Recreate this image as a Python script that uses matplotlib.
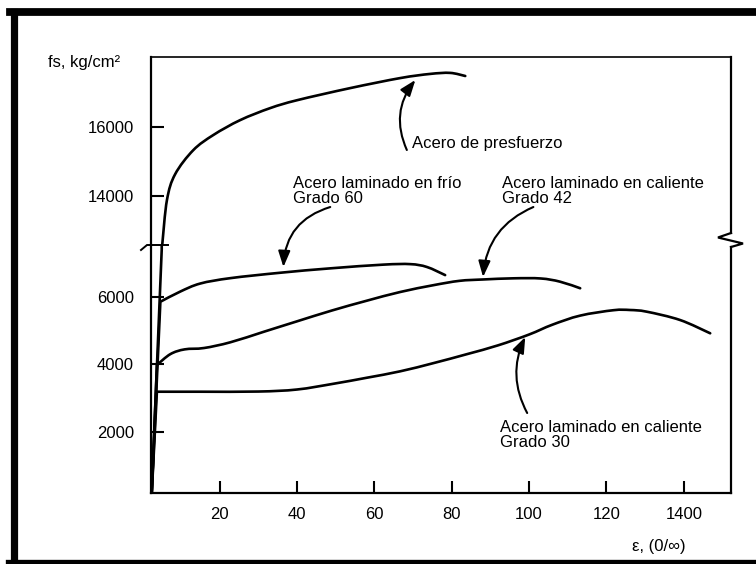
import matplotlib
matplotlib.use("Agg")
import matplotlib.pyplot as plt
import numpy as np
from matplotlib.lines import Line2D
from matplotlib.path import Path
from matplotlib.patches import PathPatch

plt.rcParams['font.family'] = ['Liberation Sans', 'DejaVu Sans']

# ---------------- data (strain, stress kg/cm2) ----------------
pres_strain = [2.4, 5.05, 5.2, 6.4, 8.5, 13.2, 18.4, 25.3, 33.1, 40.1, 53.8, 66.7, 74.4, 79.6, 83.5]
pres_stress = [0, 7400, 12600, 13875, 14620, 15320, 15760, 16190, 16540, 16770, 17120, 17410, 17530, 17560, 17470]

g60_strain = [2.4, 4.7, 9.8, 15.0, 22.8, 35.7, 48.6, 62.3, 69.3, 73.6, 78.3]
g60_stress = [0, 5850, 6150, 6390, 6550, 6710, 6840, 6950, 6965, 6880, 6640]

g42_strain = [2.4, 3.8, 7.3, 11.0, 16.0, 22.8, 31.4, 40.0, 49.0, 58.0, 66.7, 75.2, 82.0, 88.0, 96.0, 103.0, 108.0, 113.2]
g42_stress = [0, 3976, 4300, 4440, 4480, 4650, 4960, 5270, 5590, 5880, 6140, 6340, 6470, 6510, 6545, 6540, 6445, 6250]

g30_strain = [2.4, 3.8, 15, 30, 40, 49.4, 58.1, 66.7, 75.2, 84, 92, 100, 106, 113.2, 121.8, 126.1, 130.4, 139, 146.8]
g30_stress = [0, 3185, 3185, 3190, 3250, 3420, 3600, 3790, 4030, 4300, 4560, 4880, 5170, 5440, 5600, 5606, 5556, 5310, 4916]

x_ticks = [20, 40, 60, 80, 100, 120, 140]
x_tick_labels = ['20', '40', '60', '80', '100', '120', '1400']
y_ticks_low = [2000, 4000, 6000]
y_ticks_up = [14000, 16000]

W, H = 756, 564
fig = plt.figure(figsize=(W / 100, H / 100), dpi=100)

def fx(px):
    return px / W

def fy(py):
    return 1 - py / H

left, right = 150.7, 730.7
top, brk, bot = 57.3, 245, 493
ax_lo = fig.add_axes([fx(left), fy(bot), fx(right) - fx(left), fy(brk) - fy(bot)])
ax_up = fig.add_axes([fx(left), fy(brk), fx(right) - fx(left), fy(top) - fy(brk)])
for a in (ax_lo, ax_up):
    a.set_facecolor('none')
    a.set_xlim(2.2, 152.1)

ax_lo.set_ylim(184, 7532)
ax_up.set_ylim(12571, 18012)


def curve_path(xs, ys, n_straight):
    """Straight elastic segment for the first n_straight points, then a
    smooth Catmull-Rom (Bezier) curve through the remaining read points."""
    pts = np.column_stack([xs, ys]).astype(float)
    verts = [pts[0]]
    codes = [Path.MOVETO]
    for p in pts[1:n_straight]:
        verts.append(p)
        codes.append(Path.LINETO)
    sm = pts[n_straight - 1:]
    m = len(sm)
    for i in range(m - 1):
        p0 = sm[i - 1] if i > 0 else sm[i]
        p1, p2 = sm[i], sm[i + 1]
        p3 = sm[i + 2] if i + 2 < m else sm[i + 1]
        c1 = p1 + (p2 - p0) / 6.0
        c2 = p2 - (p3 - p1) / 6.0
        verts += [c1, c2, p2]
        codes += [Path.CURVE4] * 3
    return Path(np.array(verts), codes)


series = [(pres_strain, pres_stress, 3), (g60_strain, g60_stress, 2),
          (g42_strain, g42_stress, 2), (g30_strain, g30_stress, 2)]
for a in (ax_lo, ax_up):
    for s, f, ns in series:
        a.add_patch(PathPatch(curve_path(s, f, ns), fill=False, edgecolor='black', lw=1.9,
                              capstyle='round', joinstyle='round', transform=a.transData))

# spines
ax_up.spines['bottom'].set_visible(False)
ax_lo.spines['top'].set_visible(False)
for a in (ax_lo, ax_up):
    a.spines['left'].set_linewidth(1.6)
    a.spines['right'].set_linewidth(1.6)
ax_up.spines['top'].set_linewidth(1.2)
ax_lo.spines['bottom'].set_linewidth(1.6)
ax_up.spines['right'].set_bounds(12919, 18012)
ax_lo.spines['right'].set_bounds(184, 7473)

# ticks
ax_up.set_xticks([])
ax_lo.set_xticks(x_ticks)
ax_lo.set_xticklabels(x_tick_labels)
ax_lo.set_yticks(y_ticks_low)
ax_lo.set_yticklabels([str(v) for v in y_ticks_low])
ax_up.set_yticks(y_ticks_up)
ax_up.set_yticklabels([str(v) for v in y_ticks_up])
for a in (ax_lo, ax_up):
    a.tick_params(axis='both', direction='in', length=9, width=1.5, labelsize=12,
                  colors='black', right=False, top=False)
ax_lo.tick_params(axis='y', pad=12)
ax_up.tick_params(axis='y', pad=12)
ax_lo.tick_params(axis='x', pad=10)

# break marks (figure pixel coords)
def fig_line(xs, ys, lw=1.6):
    fig.add_artist(Line2D([fx(x) for x in xs], [fy(y) for y in ys], color='black', lw=lw,
                          solid_joinstyle='miter'))

fig_line([731, 718, 743, 731], [233, 237.5, 243.5, 247])
fig_line([141, 147, 168], [250, 245, 245], lw=1.4)

# annotations
arrow_kw = dict(arrowstyle='-|>,head_length=0.8,head_width=0.3', color='black', lw=1.5,
                mutation_scale=12, shrinkA=0, shrinkB=0)

ax_up.annotate('', xy=(70.6, 17354), xytext=(68.4, 15325),
               arrowprops=dict(connectionstyle='arc3,rad=-0.3', **arrow_kw))
ax_up.text(69.8, 15527, 'Acero de presfuerzo', fontsize=12, va='center', ha='left')

ax_lo.annotate('', xy=(36.5, 6880), xytext=(48.6, 13672), textcoords=ax_up.transData,
               arrowprops=dict(connectionstyle='arc3,rad=0.35', **arrow_kw))
ax_up.text(39.0, 14122, 'Acero laminado en frío\nGrado 60', fontsize=12, va='center',
           ha='left', linespacing=1.0)

ax_lo.annotate('', xy=(88.1, 6584), xytext=(101.1, 13672), textcoords=ax_up.transData,
               arrowprops=dict(connectionstyle='arc3,rad=0.3', **arrow_kw))
ax_up.text(92.9, 14122, 'Acero laminado en caliente\nGrado 42', fontsize=12, va='center',
           ha='left', linespacing=1.0)

ax_lo.annotate('', xy=(99.0, 4806), xytext=(99.5, 2554),
               arrowprops=dict(connectionstyle='arc3,rad=-0.25', **arrow_kw))
ax_lo.text(92.5, 1917, 'Acero laminado en caliente\nGrado 30', fontsize=12, va='center',
           ha='left', linespacing=1.0)

# axis titles
fig.text(fx(48), fy(62), 'fs, kg/cm²', fontsize=12, va='center', ha='left')
fig.text(fx(632), fy(547), 'ε, (0/∞)', fontsize=12, va='center', ha='left')

# outer thick frame
fig.add_artist(Line2D([fx(13.5), fx(13.5)], [fy(12), fy(566)], color='black', lw=5.2))
fig.add_artist(Line2D([fx(10), fx(760)], [fy(12), fy(12)], color='black', lw=5.6))
fig.add_artist(Line2D([fx(10), fx(760)], [fy(564), fy(564)], color='black', lw=6.0))

fig.savefig('out.png', dpi=100)
